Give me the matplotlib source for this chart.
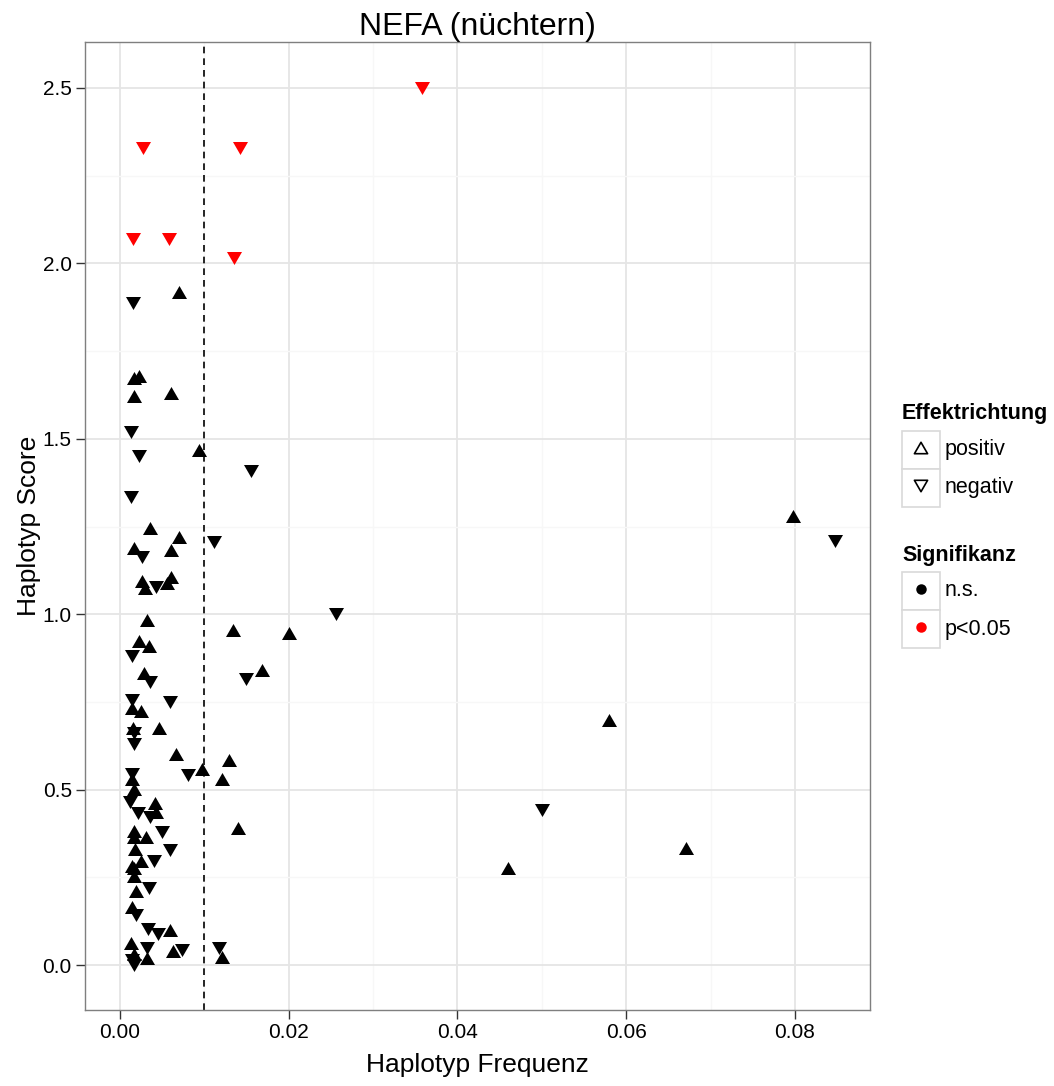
import matplotlib
matplotlib.use("Agg")
import matplotlib.pyplot as plt
import numpy as np
from matplotlib.path import Path
from matplotlib.patches import Rectangle

plt.rcParams["font.family"] = ["Liberation Sans", "DejaVu Sans"]

# haplotype frequency / score / effect direction / significance
freq = [
    0.0358, 0.0027, 0.0142, 0.0015, 0.0058, 0.0135,
    0.0015, 0.0070, 0.0016, 0.0023, 0.0016, 0.0060, 0.0013, 0.0023, 0.0094, 0.0155,
    0.0013, 0.0036, 0.0070, 0.0112, 0.0016, 0.0026, 0.0060, 0.0026, 0.0030, 0.0043,
    0.0060, 0.0056, 0.0256, 0.0798, 0.0847, 0.0032, 0.0134, 0.0200, 0.0023, 0.0034,
    0.0014, 0.0028, 0.0035, 0.0149, 0.0168, 0.0014, 0.0014, 0.0025, 0.0059, 0.0046,
    0.0015, 0.0016, 0.0016, 0.0066, 0.0129, 0.0080, 0.0097, 0.0121, 0.0014, 0.0014,
    0.0017, 0.0012, 0.0021, 0.0041, 0.0043, 0.0036, 0.0140, 0.0050, 0.0016, 0.0016,
    0.0031, 0.0059, 0.0018, 0.0040, 0.0025, 0.0014, 0.0016, 0.0016, 0.0034, 0.0019,
    0.0014, 0.0019, 0.0033, 0.0045, 0.0059, 0.0013, 0.0032, 0.0063, 0.0074, 0.0117,
    0.0121, 0.0016, 0.0032, 0.0017, 0.0014, 0.0580, 0.0500, 0.0671, 0.0460,
]
score = [
    2.500, 2.330, 2.330, 2.070, 2.070, 2.015,
    1.887, 1.918, 1.674, 1.680, 1.622, 1.632, 1.518, 1.452, 1.468, 1.407,
    1.335, 1.247, 1.221, 1.207, 1.188, 1.164, 1.183, 1.096, 1.074, 1.078,
    1.105, 1.090, 1.002, 1.280, 1.210, 0.983, 0.955, 0.946, 0.925, 0.909,
    0.881, 0.832, 0.808, 0.815, 0.841, 0.755, 0.732, 0.725, 0.750, 0.675,
    0.676, 0.662, 0.630, 0.603, 0.584, 0.542, 0.559, 0.530, 0.546, 0.529,
    0.501, 0.466, 0.434, 0.461, 0.437, 0.423, 0.392, 0.380, 0.383, 0.364,
    0.366, 0.328, 0.330, 0.297, 0.297, 0.283, 0.255, 0.276, 0.219, 0.212,
    0.166, 0.143, 0.103, 0.090, 0.100, 0.062, 0.050, 0.041, 0.043, 0.050,
    0.024, 0.033, 0.019, 0.000, 0.014, 0.698, 0.442, 0.334, 0.277,
]
direction = (
    ["neg"] * 6
    + ["neg", "pos", "pos", "pos", "pos", "pos", "neg", "neg", "pos", "neg",
       "neg", "pos", "pos", "neg", "pos", "neg", "pos", "pos", "pos", "neg",
       "pos", "pos", "neg", "pos", "neg", "pos", "pos", "pos", "pos", "pos",
       "neg", "pos", "neg", "neg", "pos", "neg", "pos", "pos", "neg", "pos",
       "pos", "neg", "neg", "pos", "pos", "neg", "pos", "pos", "neg", "pos",
       "pos", "neg", "neg", "pos", "pos", "neg", "pos", "neg", "pos", "pos",
       "pos", "neg", "pos", "neg", "pos", "pos", "pos", "pos", "neg", "pos",
       "pos", "neg", "neg", "neg", "pos", "pos", "neg", "pos", "neg", "neg",
       "pos", "pos", "pos", "neg", "neg", "pos", "neg", "pos", "pos"]
)
signif = [True] * 6 + [False] * (len(freq) - 6)

threshold = 0.01

freq = np.array(freq)
score = np.array(score)
direction = np.array(direction)
signif = np.array(signif)

tri_up = Path([(0, 0.433), (-0.5, -0.433), (0.5, -0.433), (0, 0.433)],
              [Path.MOVETO, Path.LINETO, Path.LINETO, Path.CLOSEPOLY])
tri_down = Path([(0, -0.433), (-0.5, 0.433), (0.5, 0.433), (0, -0.433)],
                [Path.MOVETO, Path.LINETO, Path.LINETO, Path.CLOSEPOLY])

fig = plt.figure(figsize=[10.54, 10.86], dpi=100)
ax = fig.add_axes([85 / 1054, 76 / 1086, 785 / 1054, 968 / 1086])

ax.set_xlim(-0.00415, 0.0889)
ax.set_ylim(-0.128, 2.631)
ax.set_xticks([0.0, 0.02, 0.04, 0.06, 0.08])
ax.set_xticks([0.01, 0.03, 0.05, 0.07], minor=True)
ax.set_yticks([0.0, 0.5, 1.0, 1.5, 2.0, 2.5])
ax.set_yticks([0.25, 0.75, 1.25, 1.75, 2.25], minor=True)
ax.set_xticklabels(["0.00", "0.02", "0.04", "0.06", "0.08"])
ax.set_yticklabels(["0.0", "0.5", "1.0", "1.5", "2.0", "2.5"])

ax.grid(which="major", color="#e5e5e5", linewidth=1.3)
ax.grid(which="minor", color="#f7f7f7", linewidth=1.0)
ax.set_axisbelow(True)
for sp in ax.spines.values():
    sp.set_color("#7f7f7f")
    sp.set_linewidth(1.0)
ax.tick_params(which="major", direction="out", length=6.5, width=1, color="#333333",
               labelsize=15, labelcolor="black", pad=3)
ax.tick_params(which="minor", length=0)

ax.axvline(threshold, color="black", linestyle=(0, (4, 3)), linewidth=1.2, zorder=2)

for d, mk in [("pos", tri_up), ("neg", tri_down)]:
    for s, col in [(False, "black"), (True, "#ff0000")]:
        m = (direction == d) & (signif == s)
        ax.scatter(freq[m], score[m], marker=mk, s=117, c=col, linewidths=0, zorder=3)

ax.set_title("NEFA (nüchtern)", fontsize=23, pad=4)
ax.set_xlabel("Haplotyp Frequenz", fontsize=19, labelpad=8)
ax.set_ylabel("Haplotyp Score", fontsize=19, labelpad=1)

# ggplot-style legends drawn in a pixel-coordinate overlay
lg = fig.add_axes([0, 0, 1, 1])
lg.set_xlim(0, 1054)
lg.set_ylim(1086, 0)
lg.axis("off")
lg.patch.set_alpha(0)

key_x0, key_w = 902, 38
legends = [
    ("Effektrichtung", 414, 431, [("positiv", tri_up, "black", "none", 90),
                                  ("negativ", tri_down, "black", "none", 90)]),
    ("Signifikanz", 556, 572, [("n.s.", "o", "black", "black", 40),
                               ("p<0.05", "o", "#ff0000", "#ff0000", 40)]),
]
for title, ty, top, items in legends:
    lg.text(key_x0, ty, title, fontsize=15.5, fontweight="bold", va="center", ha="left")
    for i, (lab, mk, ec, fc, sz) in enumerate(items):
        y0 = top + i * key_w
        lg.add_patch(Rectangle((key_x0, y0), key_w, key_w, facecolor="white",
                               edgecolor="#d9d9d9", linewidth=1.2))
        lg.scatter([key_x0 + key_w / 2], [y0 + key_w / 2 - 2], marker=mk, s=sz,
                   facecolors=fc, edgecolors=ec, linewidths=1.2)
        lg.text(key_x0 + key_w + 5, y0 + key_w / 2, lab, fontsize=15.5,
                va="center", ha="left")

fig.savefig("out.png", dpi=100)
plt.close(fig)
